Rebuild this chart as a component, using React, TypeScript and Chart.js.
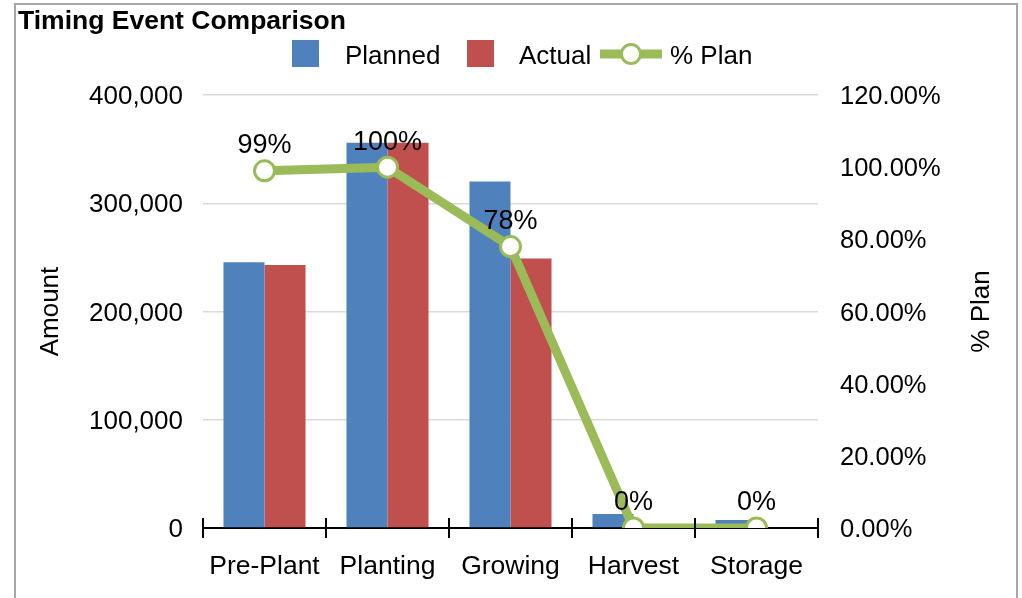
import React, { useEffect, useRef } from 'react';
import { Chart, registerables } from 'chart.js';

Chart.register(...registerables);

const categories = ['Pre-Plant', 'Planting', 'Growing', 'Harvest', 'Storage'];
const planned = [245500, 356000, 320000, 13000, 7500];
const actual = [243000, 356000, 249000, 0, 700];
const pctPlan = [0.99, 1.0, 0.78, 0, 0];
const pctLabels = ['99%', '100%', '78%', '0%', '0%'];
const leftTicks = [0, 100000, 200000, 300000, 400000];
const rightTicks = [0, 0.2, 0.4, 0.6, 0.8, 1.0, 1.2];
const titleText = 'Timing Event Comparison';
const leftAxisTitle = 'Amount';
const rightAxisTitle = '% Plan';

const FONT = '"Liberation Sans", Arial, sans-serif';
const BLUE = '#4F81BD';
const RED = '#C0504D';
const GREEN = '#9BBB59';

const decorPlugin = {
  id: 'decor',
  afterDraw(chart: any) {
    const ctx = chart.ctx;
    const xs = chart.scales.x;
    ctx.save();
    // frame
    ctx.strokeStyle = '#A6A6A6';
    ctx.lineWidth = 2;
    ctx.beginPath();
    ctx.moveTo(15, 600);
    ctx.lineTo(15, 4);
    ctx.lineTo(1017, 4);
    ctx.lineTo(1017, 600);
    ctx.stroke();

    // upward half of cross tick marks on x axis
    ctx.strokeStyle = '#000';
    ctx.lineWidth = 2;
    for (let i = 0; i <= categories.length; i++) {
      const x = xs.getPixelForValue(i - 0.5);
      ctx.beginPath();
      ctx.moveTo(x, chart.chartArea.bottom);
      ctx.lineTo(x, chart.chartArea.bottom - 10);
      ctx.stroke();
    }

    // title
    ctx.fillStyle = '#000';
    ctx.font = `bold 26.5px ${FONT}`;
    ctx.textAlign = 'left';
    ctx.textBaseline = 'alphabetic';
    ctx.fillText(titleText, 18, 29);

    // legend
    const ds = chart.data.datasets;
    ctx.font = `26px ${FONT}`;
    ctx.textBaseline = 'middle';
    const ly = 54;
    ctx.fillStyle = BLUE;
    ctx.fillRect(292, 40, 27, 27);
    ctx.fillStyle = '#000';
    ctx.fillText(ds[1].label, 345, ly + 3);
    ctx.fillStyle = RED;
    ctx.fillRect(467, 40, 27, 27);
    ctx.fillStyle = '#000';
    ctx.fillText(ds[2].label, 519, ly + 3);
    ctx.strokeStyle = GREEN;
    ctx.lineWidth = 9;
    ctx.beginPath();
    ctx.moveTo(600, ly);
    ctx.lineTo(662, ly);
    ctx.stroke();
    ctx.beginPath();
    ctx.arc(631, ly, 9.5, 0, Math.PI * 2);
    ctx.fillStyle = '#fff';
    ctx.fill();
    ctx.lineWidth = 3;
    ctx.stroke();
    ctx.fillStyle = '#000';
    ctx.fillText(ds[0].label, 670, ly + 3);

    // axis titles
    ctx.font = `26px ${FONT}`;
    ctx.textAlign = 'center';
    ctx.textBaseline = 'middle';
    const cy = (chart.chartArea.top + chart.chartArea.bottom) / 2;
    ctx.save();
    ctx.translate(51, cy);
    ctx.rotate(-Math.PI / 2);
    ctx.fillText(leftAxisTitle, 0, 0);
    ctx.restore();
    ctx.save();
    ctx.translate(982, cy);
    ctx.rotate(-Math.PI / 2);
    ctx.fillText(rightAxisTitle, 0, 0);
    ctx.restore();

    // data labels
    const meta = chart.getDatasetMeta(0);
    ctx.font = `27px ${FONT}`;
    ctx.textAlign = 'center';
    ctx.textBaseline = 'middle';
    ctx.fillStyle = '#000';
    meta.data.forEach((pt: any, i: number) => {
      ctx.fillText(pctLabels[i], pt.x, pt.y - 25);
    });
    ctx.restore();
  },
};

export default function App() {
  const ref = useRef<HTMLCanvasElement>(null);
  useEffect(() => {
    document.body.style.margin = '0';
    const chart = new Chart(ref.current as HTMLCanvasElement, {
      type: 'bar',
      data: {
        labels: categories,
        datasets: [
          {
            type: 'line',
            label: '% Plan',
            data: pctPlan,
            yAxisID: 'y1',
            borderColor: GREEN,
            borderWidth: 9,
            pointRadius: 10,
            pointBorderWidth: 3,
            pointBackgroundColor: '#fff',
            pointBorderColor: GREEN,
            tension: 0,
            order: 0,
          } as any,
          {
            label: 'Planned',
            data: planned,
            backgroundColor: BLUE,
            yAxisID: 'y',
            order: 1,
            categoryPercentage: 0.667,
            barPercentage: 1,
          },
          {
            label: 'Actual',
            data: actual,
            backgroundColor: RED,
            yAxisID: 'y',
            order: 2,
            categoryPercentage: 0.667,
            barPercentage: 1,
          },
        ],
      },
      options: {
        responsive: false,
        animation: false,
        layout: { padding: { top: 95, left: 0, right: 0, bottom: 0 } },
        plugins: { legend: { display: false }, title: { display: false }, tooltip: { enabled: false } },
        scales: {
          x: {
            offset: true,
            grid: { offset: true, drawOnChartArea: false, drawTicks: true, tickLength: 10, color: '#000', lineWidth: 2 },
            border: { color: '#000', width: 2 },
            ticks: { color: '#000', font: { family: FONT, size: 26.5 }, padding: 13, maxRotation: 0 },
            afterFit: (s: any) => { s.height = 70; },
          },
          y: {
            position: 'left',
            min: 0,
            max: 400000,
            afterBuildTicks: (s: any) => { s.ticks = leftTicks.map((v) => ({ value: v })); },
            ticks: {
              color: '#000',
              font: { family: FONT, size: 26 },
              padding: 20,
              labelOffset: 2,
              callback: (v: any) => Number(v).toLocaleString('en-US'),
            },
            grid: { color: '#D9D9D9', lineWidth: 1.5, drawTicks: false },
            border: { display: false },
            afterFit: (s: any) => { s.width = 203; },
          },
          y1: {
            position: 'right',
            min: 0,
            max: 1.2,
            afterBuildTicks: (s: any) => { s.ticks = rightTicks.map((v) => ({ value: v })); },
            ticks: {
              color: '#000',
              font: { family: FONT, size: 25.5 },
              padding: 22,
              labelOffset: 2,
              callback: (v: any) => (Number(v) * 100).toFixed(2) + '%',
            },
            grid: { drawOnChartArea: false, drawTicks: false },
            border: { display: false },
            afterFit: (s: any) => { s.width = 204; },
          },
        },
      },
      plugins: [decorPlugin],
    });
    return () => chart.destroy();
  }, []);
  return <canvas ref={ref} width={1022} height={598} />;
}
